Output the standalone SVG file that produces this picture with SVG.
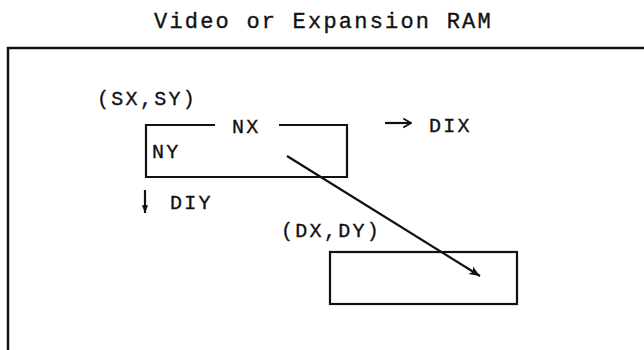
<svg xmlns="http://www.w3.org/2000/svg" width="644" height="350" viewBox="0 0 644 350">
  <style>
    .t { font-family: "Liberation Mono", "Courier New", monospace; font-size: 20px; letter-spacing: 2.3px; fill: #111; stroke: #111; stroke-width: 0.35px; }
    .title { font-size: 22px; letter-spacing: 2.2px; }
    .box { fill: none; stroke: #111; stroke-width: 2.2; }
    .ln { fill: none; stroke: #111; stroke-width: 2.2; }
  </style>
  <defs>
    <marker id="ah" viewBox="0 0 10 10" refX="10" refY="5" markerWidth="9" markerHeight="5" markerUnits="strokeWidth" orient="auto">
      <path d="M0,1 L10,5 L0,9 L2.5,5 Z" fill="#111"/>
    </marker>
    <marker id="ahs" viewBox="0 0 10 10" refX="10" refY="5" markerWidth="4" markerHeight="3.5" markerUnits="strokeWidth" orient="auto">
      <path d="M0,1 L10,5 L0,9 Z" fill="#111"/>
    </marker>
    <marker id="aho" viewBox="0 0 10 10" refX="9" refY="5" markerWidth="5" markerHeight="5" markerUnits="strokeWidth" orient="auto">
      <path d="M2,1 L9,5 L2,9" fill="none" stroke="#111" stroke-width="1.6"/>
    </marker>
  </defs>

  <text class="t title" x="154" y="28">Video or Expansion RAM</text>

  <g id="frame">
    <path d="M8,350 V48 H644" fill="none" stroke="#111" stroke-width="2.5"/>
  </g>

  <g id="source">
    <path class="box" d="M215,125 H146 V177 H347 V125 H279"/>
    <text class="t" x="97" y="105">(SX,SY)</text>
    <text class="t" x="232" y="133">NX</text>
    <text class="t" x="152" y="158">NY</text>
  </g>

  <g id="dest">
    <rect class="box" x="330" y="252" width="187" height="52"/>
    <text class="t" x="281" y="237">(DX,DY)</text>
  </g>

  <g id="connectors">
    <line class="ln" x1="287" y1="156" x2="480" y2="276" marker-end="url(#ah)"/>
    <line class="ln" x1="385" y1="123" x2="411" y2="123" stroke-width="1.6" marker-end="url(#aho)"/>
    <line class="ln" x1="145" y1="190" x2="145" y2="213" marker-end="url(#ahs)"/>
  </g>

  <g id="labels">
    <text class="t" x="429" y="132">DIX</text>
    <text class="t" x="170" y="209">DIY</text>
  </g>
</svg>
